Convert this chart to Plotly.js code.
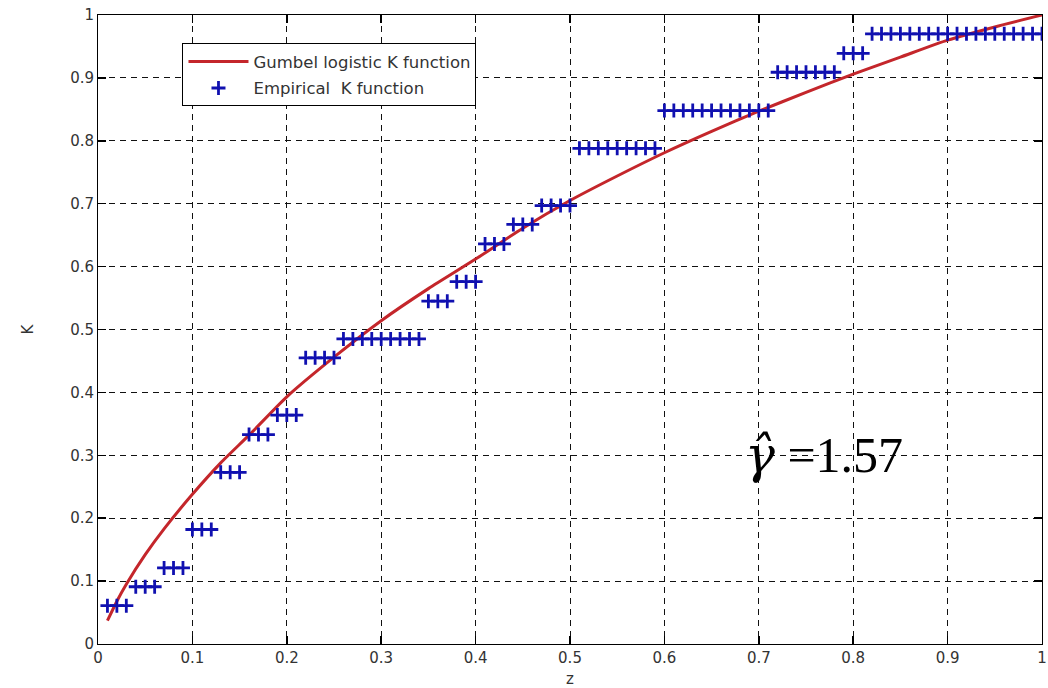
<!DOCTYPE html>
<html>
<head>
<meta charset="utf-8">
<script src="https://cdn.plot.ly/plotly-3.0.1.min.js"></script>
<style>
html,body{margin:0;padding:0;background:#fff;overflow:hidden;}
#chart{width:1048px;height:688px;}
</style>
</head>
<body>
<div id="chart"></div>
<script>
// Fitted Gumbel logistic K function
const curveZ = [0.01,0.02,0.03,0.05,0.07,0.10,0.13,0.16,0.20,0.25,0.30,0.35,0.40,0.45,0.50,0.55,0.60,0.65,0.70,0.75,0.80,0.85,0.90,0.95,1.00];
const curveK = [0.037,0.068,0.095,0.142,0.183,0.238,0.288,0.332,0.393,0.456,0.514,0.565,0.612,0.661,0.705,0.744,0.781,0.815,0.847,0.877,0.906,0.933,0.960,0.981,1.000];

// Empirical K function points
const empZ = [
 0.01,0.02,0.03, 0.04,0.05,0.06, 0.07,0.08,0.09, 0.10,0.11,0.12,
 0.13,0.14,0.15, 0.16,0.17,0.18, 0.19,0.20,0.21, 0.22,0.23,0.24,0.25,
 0.26,0.27,0.28,0.29,0.30,0.31,0.32,0.33,0.34,
 0.35,0.36,0.37, 0.38,0.39,0.40, 0.41,0.42,0.43, 0.44,0.45,0.46,
 0.47,0.48,0.49,0.50,
 0.51,0.52,0.53,0.54,0.55,0.56,0.57,0.58,0.59,
 0.60,0.61,0.62,0.63,0.64,0.65,0.66,0.67,0.68,0.69,0.70,0.71,
 0.72,0.73,0.74,0.75,0.76,0.77,0.78,
 0.79,0.80,0.81,
 0.82,0.83,0.84,0.85,0.86,0.87,0.88,0.89,0.90,0.91,0.92,0.93,0.94,0.95,0.96,0.97,0.98,0.99,1.00
];
const empK = [
 0.061,0.061,0.061, 0.091,0.091,0.091, 0.121,0.121,0.121, 0.182,0.182,0.182,
 0.273,0.273,0.273, 0.333,0.333,0.333, 0.364,0.364,0.364, 0.455,0.455,0.455,0.455,
 0.485,0.485,0.485,0.485,0.485,0.485,0.485,0.485,0.485,
 0.545,0.545,0.545, 0.576,0.576,0.576, 0.636,0.636,0.636, 0.667,0.667,0.667,
 0.697,0.697,0.697,0.697,
 0.788,0.788,0.788,0.788,0.788,0.788,0.788,0.788,0.788,
 0.848,0.848,0.848,0.848,0.848,0.848,0.848,0.848,0.848,0.848,0.848,0.848,
 0.909,0.909,0.909,0.909,0.909,0.909,0.909,
 0.939,0.939,0.939,
 0.970,0.970,0.970,0.970,0.970,0.970,0.970,0.970,0.970,0.970,0.970,0.970,0.970,0.970,0.970,0.970,0.970,0.970,0.970
];

const seriesNames = ['Gumbel logistic K function', 'Empirical  K function'];
const xTitle = 'z';
const yTitle = 'K';
const estimateText = '<span style="font-family:\'DejaVu Serif\'"><i>\u03B3\u0302</i></span> =1.57';

const tickFont = {family: 'DejaVu Sans, Verdana, sans-serif', size: 15, color: '#333'};
const titleFont = {family: 'DejaVu Sans, Verdana, sans-serif', size: 15, color: '#333'};

const traces = [
  {
    x: curveZ, y: curveK, name: seriesNames[0], type: 'scatter', mode: 'lines',
    legendgroup: 'a',
    line: {color: '#c4262b', width: 3, shape: 'spline', smoothing: 0.6}
  },
  {
    x: empZ, y: empK, name: seriesNames[1], type: 'scatter', mode: 'markers',
    legendgroup: 'b',
    marker: {symbol: 'cross-thin-open', size: 10, color: '#1010b0', line: {color: '#1010b0', width: 2.8}}
  }
];

const axisCommon = {
  dtick: 0.1, tick0: 0,
  showline: true, linecolor: '#000', linewidth: 1, mirror: 'ticks',
  ticks: 'inside', ticklen: 8, tickcolor: '#000', tickwidth: 1.5,
  showgrid: true, gridcolor: '#111', gridwidth: 1, griddash: '6px,5px',
  zeroline: false, tickfont: tickFont, fixedrange: true,
  ticklabeloverflow: 'allow'
};

const layout = {
  width: 1048, height: 688,
  margin: {l: 98, r: 6, t: 15, b: 44},
  paper_bgcolor: '#fff', plot_bgcolor: '#fff',
  showlegend: true,
  legend: {
    x: 0.0895, y: 0.955, xanchor: 'left', yanchor: 'top',
    bgcolor: '#fff', bordercolor: '#000', borderwidth: 1,
    font: {family: 'DejaVu Sans, Verdana, sans-serif', size: 16.5, color: '#333'},
    itemwidth: 60, traceorder: 'grouped', tracegroupgap: 2
  },
  xaxis: Object.assign({}, axisCommon, {
    range: [0, 1],
    title: {text: xTitle, font: titleFont, standoff: 12}
  }),
  yaxis: Object.assign({}, axisCommon, {
    range: [0, 1],
    title: {text: yTitle, font: titleFont, standoff: 32}
  }),
  annotations: [
    {
      xref: 'paper', yref: 'paper', x: 0.683, y: 0.30,
      xanchor: 'left', yanchor: 'middle', showarrow: false,
      text: estimateText,
      font: {family: 'Liberation Serif, Times New Roman, serif', size: 50, color: '#000'}
    }
  ]
};

Plotly.newPlot('chart', traces, layout, {displayModeBar: false, staticPlot: true});
</script>
</body>
</html>
